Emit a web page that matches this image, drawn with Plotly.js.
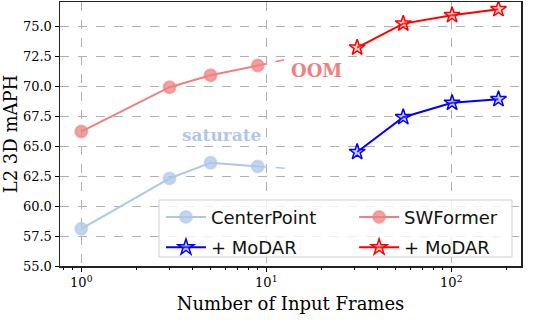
<!DOCTYPE html>
<html>
<head>
<meta charset="utf-8">
<script src="https://cdn.plot.ly/plotly-3.0.1.min.js"></script>
<style>html,body{margin:0;padding:0;background:#fff;}#chart{width:538px;height:334px;}</style>
</head>
<body>
<div id="chart"></div>
<script>
// Data
const baseFrames = [1, 3, 5, 9];
const centerPoint = [58.1, 62.3, 63.6, 63.3];
const swFormer = [66.2, 69.9, 70.9, 71.7];
const modarFrames = [31, 55, 101, 180];
const centerPointModar = [64.5, 67.4, 68.6, 68.9];
const swFormerModar = [73.2, 75.2, 75.9, 76.4];
// dashed extensions (saturate / OOM)
const cpExtFrames = [9, 14];
const cpExt = [63.3, 63.1];
const swExtFrames = [9, 13.5];
const swExt = [71.7, 72.3];
const xTickVals = [1, 10, 100];
const xTickText = ['10<sup>0</sup>', '10<sup>1</sup>', '10<sup>2</sup>'];
const yTickVals = [55, 57.5, 60, 62.5, 65, 67.5, 70, 72.5, 75];

const cpColor = 'rgb(174,199,232)';
const swColor = 'rgb(240,128,128)';
const serif = 'DejaVu Serif, serif';
const sans = 'DejaVu Sans, sans-serif';

const minorVals = [];
[0.1, 1, 10, 100].forEach(d => { for (let k = 2; k <= 9; k++) minorVals.push(k * d); });

const traces = [
  {x: cpExtFrames, y: cpExt, mode: 'lines', line: {color: cpColor, width: 1.5, dash: 'dash'}, showlegend: false, hoverinfo: 'skip'},
  {x: swExtFrames, y: swExt, mode: 'lines', line: {color: swColor, width: 1.5, dash: 'dash'}, showlegend: false, hoverinfo: 'skip'},
  {x: baseFrames, y: centerPoint, name: 'CenterPoint', mode: 'lines+markers', legend: 'legend', legendgroup: 'a',
   line: {color: cpColor, width: 2},
   marker: {symbol: 'circle', size: 12, color: 'rgba(174,199,232,0.75)', line: {color: 'rgba(174,199,232,0.6)', width: 2}}},
  {x: modarFrames, y: centerPointModar, name: '+ MoDAR', mode: 'lines+markers', legend: 'legend', legendgroup: 'b',
   line: {color: 'rgb(0,0,255)', width: 2},
   marker: {symbol: 'star', size: 12, color: 'rgba(120,120,255,0.35)', line: {color: 'rgb(0,0,255)', width: 1.5}}},
  {x: baseFrames, y: swFormer, name: 'SWFormer', mode: 'lines+markers', legend: 'legend2', legendgroup: 'c',
   line: {color: swColor, width: 2},
   marker: {symbol: 'circle', size: 12, color: 'rgba(240,128,128,0.75)', line: {color: 'rgba(240,128,128,0.6)', width: 2}}},
  {x: modarFrames, y: swFormerModar, name: '+ MoDAR', mode: 'lines+markers', legend: 'legend2', legendgroup: 'd',
   line: {color: 'rgb(255,0,0)', width: 2},
   marker: {symbol: 'star', size: 12, color: 'rgba(255,120,120,0.35)', line: {color: 'rgb(255,0,0)', width: 1.5}}}
];

const legendCommon = {
  bgcolor: 'rgba(0,0,0,0)', borderwidth: 0, font: {family: sans, size: 18, color: '#111'},
  xanchor: 'left', yanchor: 'top', tracegroupgap: 4, itemwidth: 40
};

const layout = {
  width: 538, height: 334,
  margin: {l: 60, r: 17, t: 2, b: 68},
  paper_bgcolor: '#fff', plot_bgcolor: '#fff',
  showlegend: true,
  xaxis: {
    type: 'log', range: [-0.115, 2.377],
    tickmode: 'array', tickvals: xTickVals, ticktext: xTickText,
    ticks: 'outside', ticklen: 4, tickwidth: 1, tickcolor: '#000',
    minor: {tickmode: 'array', tickvals: minorVals, ticks: 'outside', ticklen: 2.5, tickcolor: '#000', showgrid: false},
    showgrid: true, gridcolor: '#b0b0b0', griddash: 'dash', gridwidth: 1,
    showline: true, linecolor: '#222', linewidth: 1.5, mirror: true,
    zeroline: false,
    tickfont: {family: serif, size: 13, color: '#000'},
    title: {text: 'Number of Input Frames', font: {family: serif, size: 18, color: '#000'}, standoff: 8}
  },
  yaxis: {
    range: [55, 77],
    tickmode: 'array', tickvals: yTickVals, ticktext: yTickVals.map(v => v.toFixed(1)),
    ticks: 'outside', ticklen: 4, tickwidth: 1, tickcolor: '#000',
    showgrid: true, gridcolor: '#b0b0b0', griddash: 'dash', gridwidth: 1,
    showline: true, linecolor: '#222', linewidth: 1.5, mirror: true,
    zeroline: false,
    tickfont: {family: serif, size: 13, color: '#000'},
    title: {text: 'L2 3D mAPH', font: {family: serif, size: 18, color: '#000'}, standoff: 6}
  },
  legend: Object.assign({}, legendCommon, {x: 0.219, y: 0.255}),
  legend2: Object.assign({}, legendCommon, {x: 0.638, y: 0.255}),
  shapes: [{
    type: 'rect', xref: 'paper', yref: 'paper', x0: 0.2148, x1: 0.9805, y0: 0.034, y1: 0.25,
    fillcolor: 'rgba(255,255,255,0.8)', line: {color: '#d0d0d0', width: 1}, layer: 'above'
  }],
  annotations: [
    {xref: 'x', yref: 'y', x: 1.274, y: 71.27, text: '<b>OOM</b>', showarrow: false,
     font: {family: serif, size: 18, color: swColor}},
    {xref: 'x', yref: 'y', x: 0.762, y: 65.92, text: '<b>saturate</b>', showarrow: false,
     font: {family: serif, size: 17, color: cpColor}}
  ]
};

Plotly.newPlot('chart', traces, layout, {displayModeBar: false, staticPlot: true});
</script>
</body>
</html>
